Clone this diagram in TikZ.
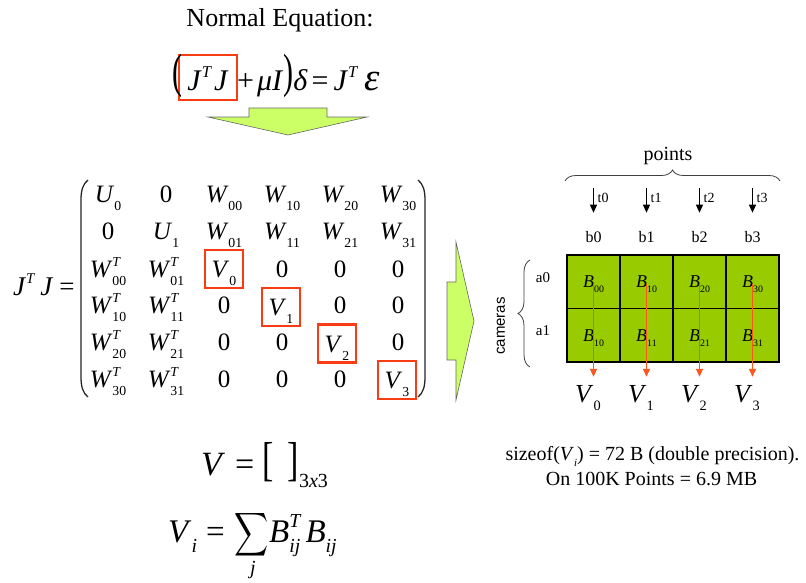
\documentclass[tikz,border=0pt]{standalone}
\usepackage{amsmath}
\usepackage{fontspec}
\setmainfont{Liberation Serif}
\newfontfamily\sansf{Liberation Sans}
\usepackage{graphicx}
\usetikzlibrary{arrows.meta,decorations.pathreplacing}
\definecolor{boxred}{RGB}{250,60,20}
\definecolor{arrred}{RGB}{255,85,30}
\definecolor{lime}{RGB}{204,255,102}
\definecolor{cellgreen}{RGB}{153,204,0}
\newcommand\iv[1]{\textit{#1}}
\newcommand\lsub[1]{\raisebox{-0.32em}{\scalebox{0.55}{#1}}}
\newcommand\hsup[1]{\raisebox{0.42em}{\scalebox{0.55}{#1}}}
\newcommand\supsub[2]{\raisebox{-0.32em}{\scalebox{0.55}{\renewcommand\arraystretch{1.35}\begin{tabular}[b]{@{}l@{}}#1\\#2\end{tabular}}}}
\newcommand\mU[1]{\iv{U}\lsub{#1}}
\newcommand\mW[1]{\iv{W}\lsub{#1}}
\newcommand\mWT[1]{\iv{W}\supsub{\iv{T}}{#1}}
\newcommand\mV[1]{\iv{V}\lsub{#1}}
\newcommand\fs[1]{\fontsize{#1}{#1}\selectfont}
\newcommand\bigpar[1]{\raisebox{2.5pt}{\scalebox{1}[1.6]{#1}}}
\begin{document}
\begin{tikzpicture}[x=1pt,y=-1pt,
  ent/.style={anchor=base, inner sep=0pt, font=\fs{25}},
  vbox/.style={draw=boxred, line width=2.8pt, minimum width=38pt, minimum height=38pt, inner sep=0pt, text height=17pt, text depth=0pt, font=\fs{25}},
  cell/.style={draw=black, line width=1.4pt, fill=cellgreen, minimum width=53pt, minimum height=53.5pt, inner sep=0pt},
  blab/.style={anchor=base, inner sep=0pt, font=\fs{18}},
  redarr/.style={draw=arrred, line width=1.6pt, -{Triangle[length=8pt,width=7pt]}, shorten >=8pt},
  tarr/.style={draw=black, line width=1pt, -{Triangle[length=8pt,width=7pt]}, shorten >=18pt},
  small/.style={inner sep=0pt, font=\fs{15}},
  garrow/.style={fill=lime, draw=black!60, line width=0.6pt},
  brc/.style={draw=black!75, line width=0.8pt, decorate},
  plain/.style={inner sep=0pt}
]
\fill[white] (0,0) rectangle (806,582);
\useasboundingbox (0,0) rectangle (806,582);

% title and normal equation
\node[plain, anchor=base, font=\fs{26}] (title) at (280,26) {Normal Equation:};
\node[draw=boxred, line width=2.8pt, minimum width=58pt, minimum height=45pt, inner sep=0pt, text height=25pt, text depth=0pt, font=\fs{30}] (jtj) at (208,77.5) {\iv{J}\hsup{\iv{T}}\hspace{2pt}\iv{J}};
\node[plain, anchor=base west, font=\fs{30}] (lp) at (172,90) {\bigpar{(}};
\node[plain, anchor=base west, font=\fs{30}] (rest) at (237,90) {+\hspace{3pt}\iv{μI}\bigpar{)}\iv{δ}\hspace{4pt}=\hspace{5pt}\iv{J}\hsup{\iv{T}}\hspace{6pt}\scalebox{1.3}{\iv{ε}}};

% down arrow
\draw[garrow] (249,108) -- (327,108) -- (327,117) -- (367,117) -- (288,135) -- (208,117) -- (249,117) -- cycle;

% J^T J =
\node[plain, anchor=base west, font=\fs{27}] (lhs) at (13,295) {\iv{J}\hsup{\iv{T}}\hspace{5pt}\iv{J}\hspace{6pt}=};

% matrix parentheses
\draw[line width=1.3pt, black!85] (88,180) .. controls (83,184) and (81,190) .. (81,200) -- (81,377) .. controls (81,387) and (83,393) .. (88,397);
\draw[line width=1.3pt, black!85] (418,180) .. controls (423,184) and (425,190) .. (425,200) -- (425,377) .. controls (425,387) and (423,393) .. (418,397);

% matrix entries
\node[ent] (m11) at (108,202) {\mU{0}};
\node[ent] (m12) at (166,202) {0};
\node[ent] (m13) at (224,202) {\mW{00}};
\node[ent] (m14) at (282,202) {\mW{10}};
\node[ent] (m15) at (340,202) {\mW{20}};
\node[ent] (m16) at (398,202) {\mW{30}};
\node[ent] (m21) at (108,239.5) {0};
\node[ent] (m22) at (166,239.5) {\mU{1}};
\node[ent] (m23) at (224,239.5) {\mW{01}};
\node[ent] (m24) at (282,239.5) {\mW{11}};
\node[ent] (m25) at (340,239.5) {\mW{21}};
\node[ent] (m26) at (398,239.5) {\mW{31}};
\node[ent] (m31) at (108,277) {\mWT{00}};
\node[ent] (m32) at (166,277) {\mWT{01}};
\node[vbox] (m33) at (224,269) {\mV{0}};
\node[ent] (m34) at (282,277) {0};
\node[ent] (m35) at (340,277) {0};
\node[ent] (m36) at (398,277) {0};
\node[ent] (m41) at (108,313) {\mWT{10}};
\node[ent] (m42) at (166,313) {\mWT{11}};
\node[ent] (m43) at (224,313) {0};
\node[vbox] (m44) at (281,307) {\mV{1}};
\node[ent] (m45) at (340,313) {0};
\node[ent] (m46) at (398,313) {0};
\node[ent] (m51) at (108,350) {\mWT{20}};
\node[ent] (m52) at (166,350) {\mWT{21}};
\node[ent] (m53) at (224,350) {0};
\node[ent] (m54) at (282,350) {0};
\node[vbox] (m55) at (337,343.5) {\mV{2}};
\node[ent] (m56) at (398,350) {0};
\node[ent] (m61) at (108,387) {\mWT{30}};
\node[ent] (m62) at (166,387) {\mWT{31}};
\node[ent] (m63) at (224,387) {0};
\node[ent] (m64) at (282,387) {0};
\node[ent] (m65) at (340,387) {0};
\node[vbox] (m66) at (397,380) {\mV{3}};

% right arrow
\draw[garrow] (447,282) -- (456,282) -- (456,242) -- (474,321) -- (456,400) -- (456,360) -- (447,360) -- cycle;

% points brace and t/b labels
\node[plain, anchor=base, font=\fs{20}] (points) at (668,160) {points};
\draw[brc, decoration={brace, amplitude=11pt}] (565,181) -- (780,181);
\foreach \i/\x in {0/593.5,1/646.5,2/699.5,3/752.5}{
  \coordinate (tt\i) at (\x,188);
  \node[small, anchor=base, font=\fs{16}] (b\i) at (\x,242) {b\i};
  \node[small, anchor=west, font=\fs{14}] (t\i) at (\x+4,198) {t\i};
  \draw[tarr] (tt\i) -- (tt\i |- b\i.north);
}

% cameras brace
\node[plain, rotate=90, font=\sansf\fs{15}] (cam) at (501,326) {cameras};
\draw[brc, decoration={brace, amplitude=12pt}] (530,367) -- (530,260);
\node[small, anchor=base] (a0) at (543,282) {a0};
\node[small, anchor=base] (a1) at (543,335) {a1};

% grid
\node[cell] (c00) at (593.5,281.75) {};
\node[cell] (c10) at (646.5,281.75) {};
\node[cell] (c20) at (699.5,281.75) {};
\node[cell] (c30) at (752.5,281.75) {};
\node[cell] (c01) at (593.5,335.25) {};
\node[cell] (c11) at (646.5,335.25) {};
\node[cell] (c21) at (699.5,335.25) {};
\node[cell] (c31) at (752.5,335.25) {};
\node[blab] (b00) at (593.5,287) {\iv{B}\lsub{00}};
\node[blab] (b10) at (646.5,287) {\iv{B}\lsub{10}};
\node[blab] (b20) at (699.5,287) {\iv{B}\lsub{20}};
\node[blab] (b30) at (752.5,287) {\iv{B}\lsub{30}};
\node[blab] (b01) at (593.5,341) {\iv{B}\lsub{10}};
\node[blab] (b11) at (646.5,341) {\iv{B}\lsub{11}};
\node[blab] (b21) at (699.5,341) {\iv{B}\lsub{21}};
\node[blab] (b31) at (752.5,341) {\iv{B}\lsub{31}};

% V labels
\node[ent, font=\fs{26}] (v0) at (588,402) {\mV{0}};
\node[ent, font=\fs{26}] (v1) at (641,402) {\mV{1}};
\node[ent, font=\fs{26}] (v2) at (694,402) {\mV{2}};
\node[ent, font=\fs{26}] (v3) at (747,402) {\mV{3}};
\draw[redarr] (b00.center) -- (b00.center |- v0.north);
\draw[redarr] (b10.center) -- (b10.center |- v1.north);
\draw[redarr] (b20.center) -- (b20.center |- v2.north);
\draw[redarr] (b30.center) -- (b30.center |- v3.north);

% size text
\node[plain, anchor=base, font=\fs{20}] (sz) at (652.5,460) {sizeof(\iv{V}\lsub{\iv{i}}) = 72 B (double precision).};
\node[plain, anchor=base, font=\fs{20}] (on) at (651.5,485) {On 100K Points = 6.9 MB};

% V definition
\node[plain, anchor=base west, font=\fs{34}] (vdef) at (201,475) {\iv{V}\hspace{10pt}=\hspace{8pt}\scalebox{1}[1.4]{[}\hspace{14pt}\scalebox{1}[1.4]{]}\raisebox{-12pt}{\fs{20}3\iv{x}3}};

% V_i sum
\node[plain, anchor=base west, font=\fs{33}] (vi) at (168,542) {\iv{V}\raisebox{-0.32em}{\scalebox{0.6}{\iv{i}}}};
\node[plain, anchor=base west, font=\fs{33}] (eq2) at (206,542) {=};
\node[plain] (sum) at (251.5,535) {\scalebox{0.95}[1.22]{\fs{33}$\displaystyle\sum$}};
\node[plain, anchor=base, font=\fs{20}] (jj) at (253,574) {\iv{j}};
\node[plain, anchor=base west, font=\fs{33}] (btb) at (269,542) {\iv{B}\raisebox{-0.32em}{\scalebox{0.6}{\renewcommand\arraystretch{1.25}\begin{tabular}[b]{@{}l@{}}\iv{T}\\\iv{ij}\end{tabular}}}\hspace{4pt}\iv{B}\raisebox{-0.32em}{\scalebox{0.6}{\iv{ij}}}};
\end{tikzpicture}
\end{document}
